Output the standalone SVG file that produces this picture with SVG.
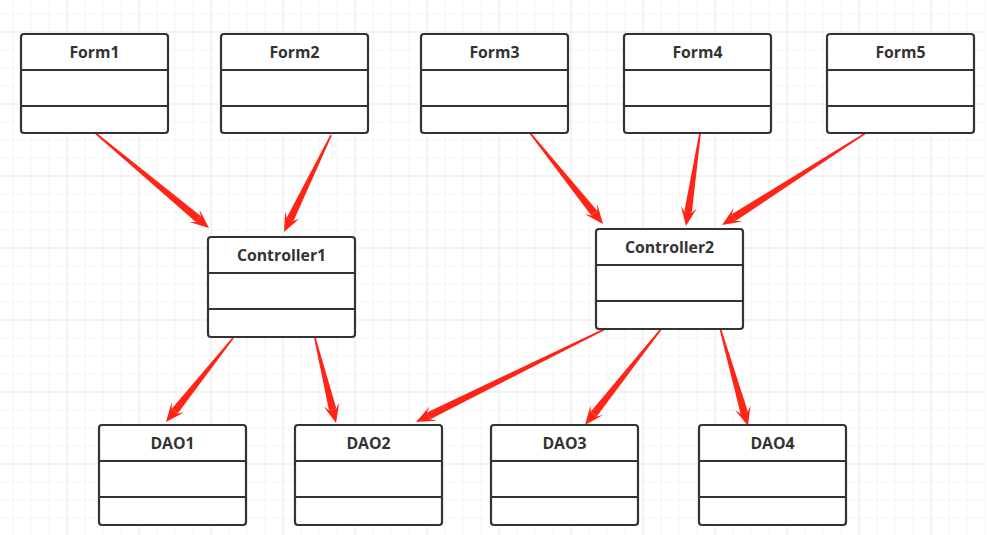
<svg xmlns="http://www.w3.org/2000/svg" xmlns:xlink="http://www.w3.org/1999/xlink" width="988" height="535" viewBox="0 0 988 535">
<style>
.box{fill:#fff;stroke:#333;stroke-width:2.2;}
.div{stroke:#333;stroke-width:2.2;}
.t{font-family:"Open Sans","Noto Sans","Liberation Sans",sans-serif;font-weight:bold;font-size:15.8px;fill:#333;text-anchor:middle;}
.arr{fill:#ff2416;}
</style>
<defs>
<pattern id="minor" patternUnits="userSpaceOnUse" x="12.5" y="13.5" width="18" height="18">
<path d="M0,0 V18 M0,0 H18" fill="none" stroke="#ececec" stroke-width="1"/>
</pattern>
<pattern id="major" patternUnits="userSpaceOnUse" x="66.5" y="31.5" width="72" height="72">
<path d="M0,0 V72 M0,0 H72" fill="none" stroke="#e0e0e0" stroke-width="1"/>
</pattern>
<path id="head" d="M0,0 L-19,-8 L-14,-3.8 L-14,3.8 L-19,8 Z"/>
</defs>
<rect width="988" height="535" fill="#fff"/>
<rect width="985" height="535" fill="url(#minor)"/>
<rect width="985" height="535" fill="url(#major)"/>

<g id="connectors" class="arr">
<g transform="translate(209,228) rotate(39.9)"><use xlink:href="#head"/><path d="M-14,-3.8 L-151.2,-0.8 L-151.2,0.8 L-14,3.8 Z"/></g>
<g transform="translate(284,232) rotate(115.9)"><use xlink:href="#head"/><path d="M-14,-3.8 L-107.8,-0.8 L-107.8,0.8 L-14,3.8 Z"/></g>
<g transform="translate(603,224) rotate(51.3)"><use xlink:href="#head"/><path d="M-14,-3.8 L-116.7,-0.8 L-116.7,0.8 L-14,3.8 Z"/></g>
<g transform="translate(686,226) rotate(98.6)"><use xlink:href="#head"/><path d="M-14,-3.8 L-94,-0.8 L-94,0.8 L-14,3.8 Z"/></g>
<g transform="translate(722,225) rotate(147.4)"><use xlink:href="#head"/><path d="M-14,-3.8 L-170.9,-0.8 L-170.9,0.8 L-14,3.8 Z"/></g>
<g transform="translate(166,422) rotate(128.6)"><use xlink:href="#head"/><path d="M-14,-3.8 L-107.4,-0.8 L-107.4,0.8 L-14,3.8 Z"/></g>
<g transform="translate(336,423) rotate(76.1)"><use xlink:href="#head"/><path d="M-14,-3.8 L-87.6,-0.8 L-87.6,0.8 L-14,3.8 Z"/></g>
<g transform="translate(416,422) rotate(153.8)"><use xlink:href="#head"/><path d="M-14,-3.8 L-212.9,-0.8 L-212.9,0.8 L-14,3.8 Z"/></g>
<g transform="translate(585,425) rotate(128.4)"><use xlink:href="#head"/><path d="M-14,-3.8 L-123.8,-0.8 L-123.8,0.8 L-14,3.8 Z"/></g>
<g transform="translate(748,426) rotate(74.1)"><use xlink:href="#head"/><path d="M-14,-3.8 L-101.9,-0.8 L-101.9,0.8 L-14,3.8 Z"/></g>
</g>

<g id="Form1" transform="translate(21,34)"><rect class="box" width="147" height="99" rx="3"/><path class="div" d="M0,36 H147 M0,72 H147"/><text class="t" x="73.5" y="24">Form1</text></g>
<g id="Form2" transform="translate(221,34)"><rect class="box" width="147" height="99" rx="3"/><path class="div" d="M0,36 H147 M0,72 H147"/><text class="t" x="73.5" y="24">Form2</text></g>
<g id="Form3" transform="translate(421,34)"><rect class="box" width="147" height="99" rx="3"/><path class="div" d="M0,36 H147 M0,72 H147"/><text class="t" x="73.5" y="24">Form3</text></g>
<g id="Form4" transform="translate(624,34)"><rect class="box" width="147" height="99" rx="3"/><path class="div" d="M0,36 H147 M0,72 H147"/><text class="t" x="73.5" y="24">Form4</text></g>
<g id="Form5" transform="translate(827,34)"><rect class="box" width="147" height="99" rx="3"/><path class="div" d="M0,36 H147 M0,72 H147"/><text class="t" x="73.5" y="24">Form5</text></g>
<g id="Controller1" transform="translate(208,237)"><rect class="box" width="147" height="100" rx="3"/><path class="div" d="M0,36 H147 M0,72 H147"/><text class="t" x="73.5" y="24">Controller1</text></g>
<g id="Controller2" transform="translate(596,229)"><rect class="box" width="147" height="100" rx="3"/><path class="div" d="M0,36 H147 M0,72 H147"/><text class="t" x="73.5" y="24">Controller2</text></g>
<g id="DAO1" transform="translate(99,425)"><rect class="box" width="147" height="100" rx="3"/><path class="div" d="M0,36 H147 M0,72 H147"/><text class="t" x="73.5" y="24">DAO1</text></g>
<g id="DAO2" transform="translate(295,425)"><rect class="box" width="147" height="100" rx="3"/><path class="div" d="M0,36 H147 M0,72 H147"/><text class="t" x="73.5" y="24">DAO2</text></g>
<g id="DAO3" transform="translate(491,425)"><rect class="box" width="147" height="100" rx="3"/><path class="div" d="M0,36 H147 M0,72 H147"/><text class="t" x="73.5" y="24">DAO3</text></g>
<g id="DAO4" transform="translate(699,425)"><rect class="box" width="147" height="100" rx="3"/><path class="div" d="M0,36 H147 M0,72 H147"/><text class="t" x="73.5" y="24">DAO4</text></g>
</svg>
